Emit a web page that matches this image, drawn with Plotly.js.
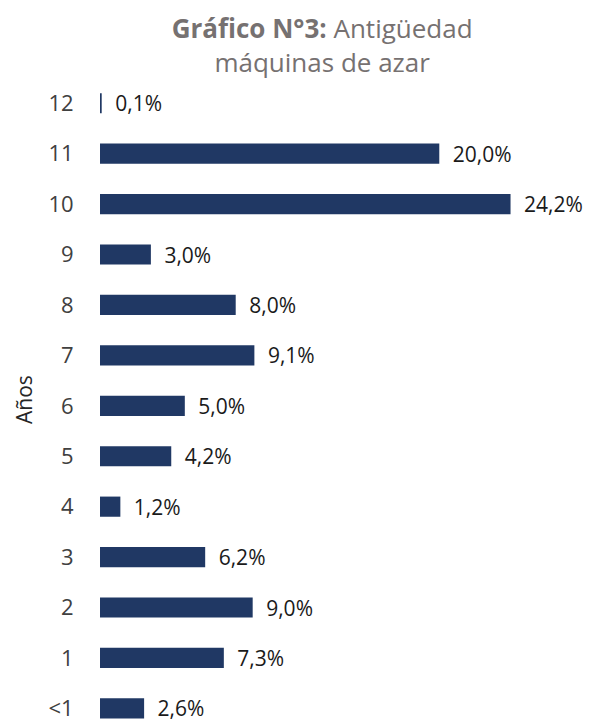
<!DOCTYPE html>
<html>
<head>
<meta charset="utf-8">
<script src="https://cdn.plot.ly/plotly-3.0.1.min.js"></script>
<style>html,body{margin:0;padding:0;background:#fff;}#chart{width:601px;height:722px;}</style>
</head>
<body>
<div id="chart"></div>
<script>
const categories = ["<1","1","2","3","4","5","6","7","8","9","10","11","12"];
const values = [2.6, 7.3, 9.0, 6.2, 1.2, 4.2, 5.0, 9.1, 8.0, 3.0, 24.2, 20.0, 0.1];
const titleBold = "Gráfico N°3:";
const titleRest = " Antigüedad<br>máquinas de azar";
const yTitle = "Años";

const FONT = "Open Sans, Lato, sans-serif";

const trace = {
  type: 'bar',
  orientation: 'h',
  y: categories,
  x: values,
  marker: {color: '#203864'},
  text: values.map(v => '\u2002' + v.toFixed(1).replace('.', ',') + '%'),
  texttemplate: '%{text}',
  textposition: 'outside',
  constraintext: 'none',
  cliponaxis: false,
  textfont: {family: FONT, size: 21, color: '#1a1a1a'},
  hoverinfo: 'none'
};

const layout = {
  width: 601, height: 722,
  margin: {l: 100, r: 26, t: 78, b: 1},
  paper_bgcolor: '#ffffff',
  plot_bgcolor: '#ffffff',
  showlegend: false,
  bargap: 0.6,
  separators: ',.',
  title: {
    text: '<b>' + titleBold + '</b>' + titleRest,
    x: 0.536, xref: 'container', xanchor: 'center',
    y: 0.947, yref: 'container', yanchor: 'top',
    font: {family: FONT, size: 26, color: '#767171'}
  },
  xaxis: {
    range: [0, 28],
    visible: false,
    showgrid: false, zeroline: false
  },
  yaxis: {
    type: 'category',
    categoryorder: 'array',
    categoryarray: categories,
    range: [-0.25, 12.5],
    showgrid: false, zeroline: false, showline: false,
    ticks: 'outside', ticklen: 21, tickcolor: 'rgba(0,0,0,0)',
    tickfont: {family: FONT, size: 22, color: '#404040'},
    title: {text: yTitle, font: {family: FONT, size: 21, color: '#262626'}, standoff: 10}
  }
};

Plotly.newPlot('chart', [trace], layout, {displayModeBar: false, staticPlot: true});
</script>
</body>
</html>
